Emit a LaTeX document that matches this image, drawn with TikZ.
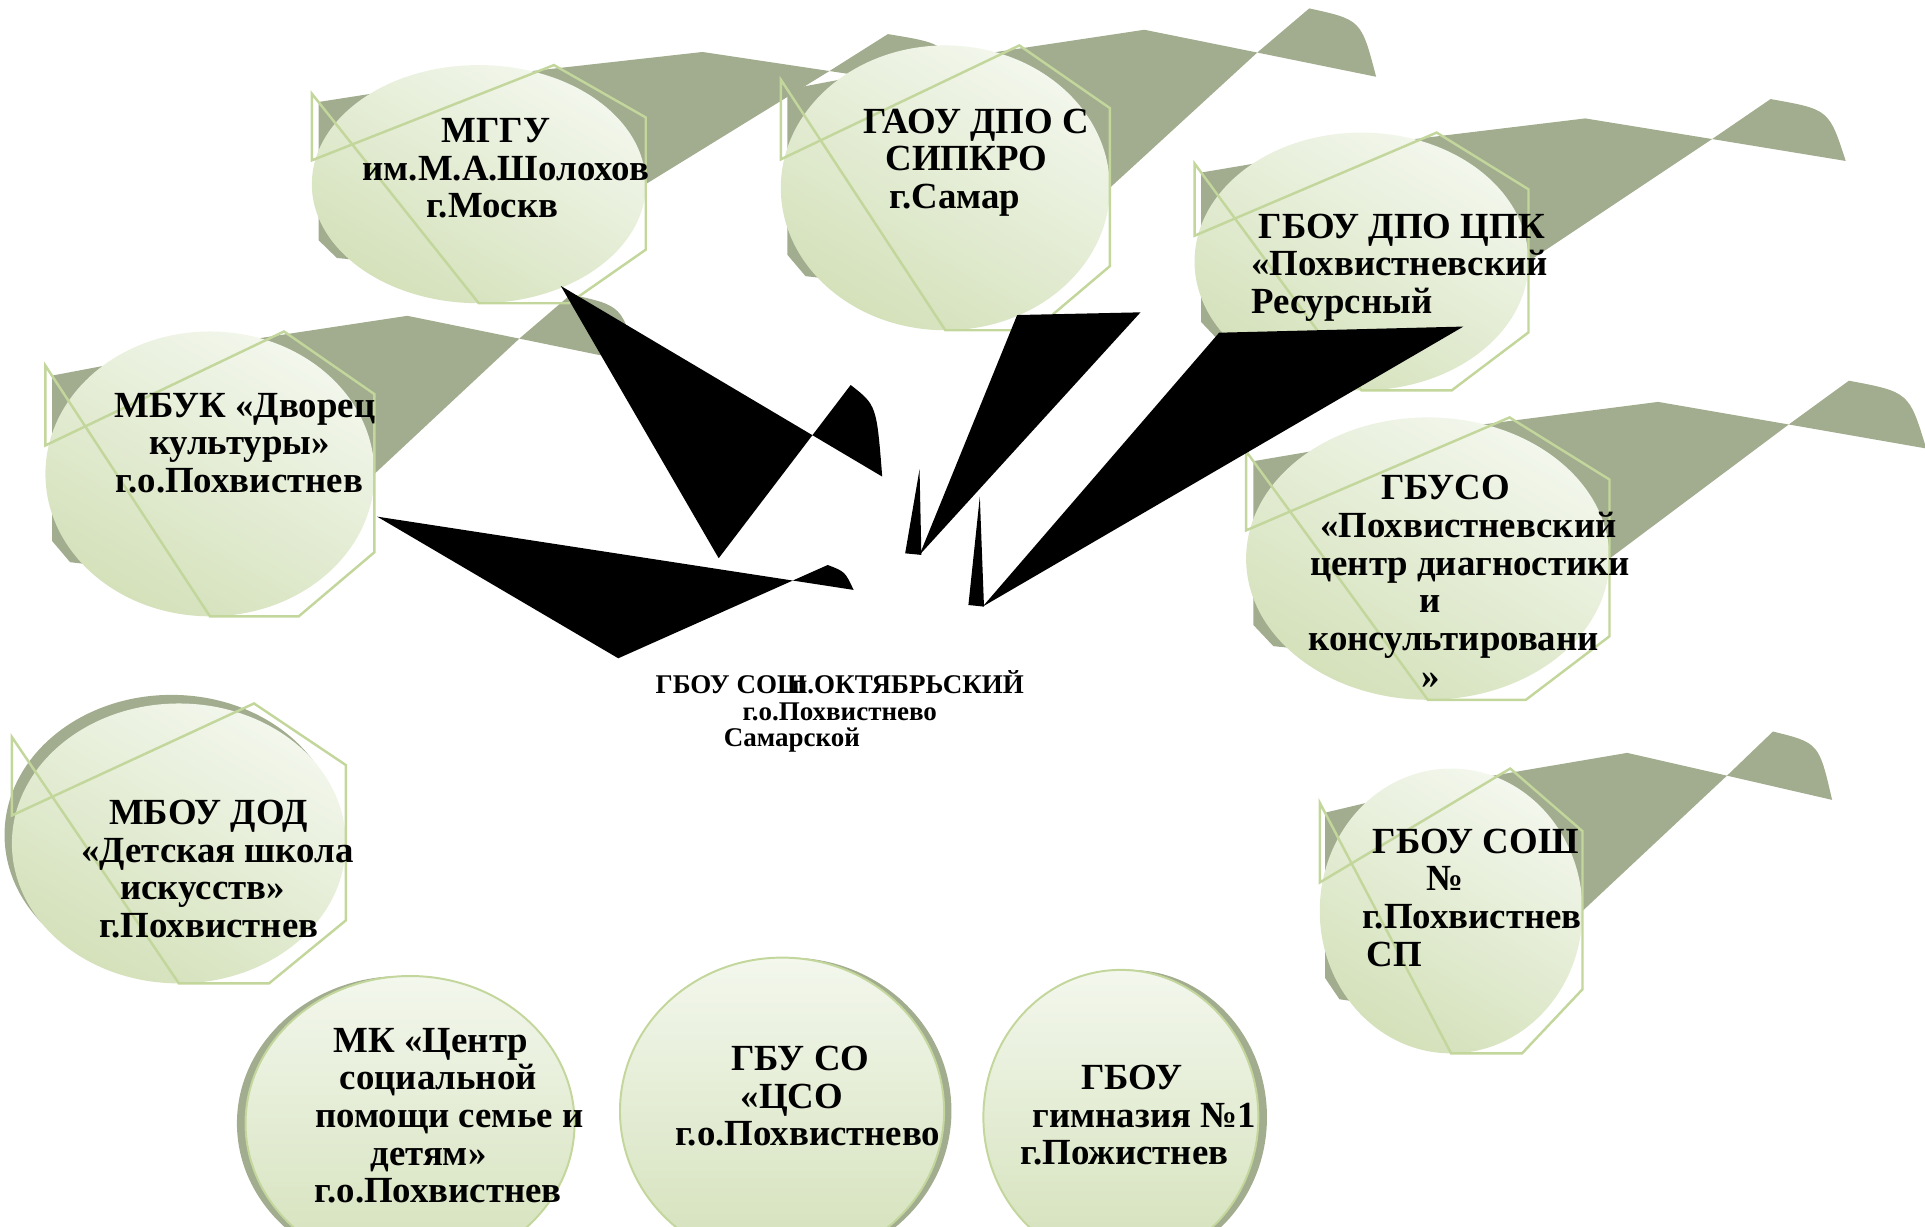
\documentclass[tikz,border=0pt]{standalone}
\usepackage{fontspec}
\setmainfont{Liberation Serif}
\usetikzlibrary{shapes.geometric}
\definecolor{shadowol}{RGB}{162,172,142}
\definecolor{hexgreen}{RGB}{195,214,155}
\definecolor{ovtop}{RGB}{243,247,237}
\definecolor{ovbot}{RGB}{212,225,186}
\tikzset{
  oval/.style={ellipse, inner sep=0pt, outer sep=0pt, top color=ovtop, bottom color=ovbot, shading angle=-30, draw=none},
  ovalrim/.style={ellipse, inner sep=0pt, outer sep=0pt, top color=ovtop, bottom color=ovbot, draw=hexgreen, line width=1.6pt},
  hexline/.style={draw=hexgreen, line width=2pt, line join=miter},
  lbl/.style={font=\fontsize{30}{30.7}\selectfont\bfseries, align=center, anchor=base, inner sep=0pt},
  centrelbl/.style={font=\fontsize{22}{21.5}\selectfont\bfseries, align=center, anchor=base, inner sep=0pt},
  linkfill/.style={fill=black}
}
% line shifted left: text then trailing space kept in a box
\newcommand\lft[2]{\mbox{#2\hspace{#1}}}
% line shifted right: leading space kept in a box
\newcommand\rgt[2]{\mbox{\hspace{#1}#2}}
% #1 cx, #2 cy, #3 rx, #4 ry, #5 sx
\newcommand\shadowshape[5]{%
  \fill[shadowol] ({#1-0.96*#3},{#2-0.69*#4}) -- ({#1},{#2-0.9*#4}) -- ({#1+1.34*#5},{#2-1.11*#4})
    -- ({#1+2.1*#5},{#2-0.95*#4}) -- ({#1+#3},{#2}) -- ({#1+0.5*#3},{#2+0.8*#4})
    -- ({#1-0.85*#3},{#2+0.62*#4}) -- ({#1-0.96*#3},{#2+0.47*#4}) -- cycle;
  \fill[shadowol] ({#1+2.1*#5},{#2-0.95*#4}) -- ({#1+2.45*#5},{#2-1.26*#4})
    .. controls ({#1+2.8*#5},{#2-1.18*#4}) .. ({#1+2.9*#5},{#2-0.78*#4}) -- cycle;
}
% #1 cx, #2 cy, #3 rx, #4 ry
\newcommand\hexframe[4]{%
  \draw[hexline] ({#1-#3},{#2-0.76*#4}) -- ({#1-#3},{#2-0.2*#4}) -- ({#1+0.45*#3},{#2-1.0*#4})
    -- ({#1+#3},{#2-0.56*#4}) -- ({#1+#3},{#2+0.55*#4}) -- ({#1+0.54*#3},{#2+#4})
    -- ({#1},{#2+#4}) -- cycle;
}
\begin{document}
\begin{tikzpicture}[x=1pt,y=-1pt]
\useasboundingbox (0,0) rectangle (1568,999.4);

% ---- shadows ----
\shadowshape{171}{386}{134}{116}{120}
\shadowshape{390}{150}{136}{97}{136}
\shadowshape{770}{153}{134}{116}{121}
\shadowshape{1109}{213}{136}{105}{136}
\shadowshape{1163}{455}{148}{115}{140}
\shadowshape{1182}{742}{107}{116}{107}
\fill[shadowol] (139.7,680) ellipse [x radius=136, y radius=114];
\fill[shadowol] (327,915) ellipse [x radius=134, y radius=120];
\fill[shadowol] (643,905) ellipse [x radius=132, y radius=125];
\fill[shadowol] (920,910) ellipse [x radius=112, y radius=120];

% ---- ovals ----
\node[oval, minimum width=268pt, minimum height=232pt] (mbuk) at (171,386) {};
\node[oval, minimum width=272pt, minimum height=194pt] (mggu) at (390,150) {};
\node[oval, minimum width=268pt, minimum height=232pt] (gaou) at (770,153) {};
\node[oval, minimum width=272pt, minimum height=210pt] (cpk) at (1109,213) {};
\node[oval, minimum width=296pt, minimum height=230pt] (gbuso) at (1163,455) {};
\node[oval, minimum width=214pt, minimum height=232pt] (sosh) at (1182,742) {};
\node[oval, minimum width=272pt, minimum height=228pt] (mbou) at (145.7,687) {};
\node[ovalrim, minimum width=268pt, minimum height=240pt] (mk) at (334,915) {};
\node[ovalrim, minimum width=264pt, minimum height=250pt] (cso) at (637,905) {};
\node[ovalrim, minimum width=224pt, minimum height=240pt] (gimn) at (913,910) {};

% ---- hexagon frames ----
\hexframe{171}{386}{134}{116}
\hexframe{390}{150}{136}{97}
\hexframe{770}{153}{134}{116}
\hexframe{1109}{213}{136}{105}
\hexframe{1163}{455}{148}{115}
\hexframe{1182}{742}{107}{116}
\hexframe{145.7}{687}{136}{114}

% ---- connectors ----
\coordinate (tipA) at (456.8,232.9);
\coordinate (tipB) at (307.2,420.8);
\fill[linkfill] (tipA) -- (718.6,388.2) .. controls (714,330) .. (692.9,313.6) -- (585.4,454.7) -- cycle;
\fill[linkfill] (tipB) -- (695.3,480.5) .. controls (688.3,465.6) .. (674.2,460.2) -- (503.6,536.2) -- cycle;
\fill[linkfill] (828.5,256.6) -- (929.0,254.4) -- (749.0,452.0) -- cycle;
\fill[linkfill] (749.0,382.3) -- (737.3,450.7) -- (750.5,452.0) -- cycle;
\fill[linkfill] (993,271) -- (1192,266) -- (800.4,494.1) -- cycle;
\fill[linkfill] (798.1,404.5) -- (788.8,492.8) -- (801.5,494.1) -- cycle;

% ---- texts (base = baseline of last line) ----
\node[lbl] (tmggu) at (412,177.4) {\lft{16pt}{МГГУ}\\им.М.А.Шолохов\\\lft{22pt}{г.Москв}};
\node[lbl] (tgaou) at (792,169.9) {\rgt{6pt}{ГАОУ ДПО С}\\\lft{10pt}{СИПКРО}\\\lft{28pt}{г.Самар}};
\node[lbl, align=left, anchor=base west] (tcpk) at (1019,255.4) {\rgt{6pt}{ГБОУ ДПО ЦПК}\\«Похвистневский\\Ресурсный};
\node[lbl] (tgbuso) at (1193,560.5) {\lft{31pt}{ГБУСО}\\\rgt{6pt}{«Похвистневский}\\\rgt{9pt}{центр диагностики}\\\lft{56pt}{и}\\\lft{18pt}{консультировани}\\\lft{56pt}{»}};
\node[lbl] (tsosh) at (1195,787.1) {\rgt{14pt}{ГБОУ СОШ}\\\lft{36pt}{№}\\\rgt{8pt}{г.Похвистнев}\\\lft{119pt}{СП}};
\node[lbl] (tmbou) at (170,763.7) {МБОУ ДОД\\\rgt{14pt}{«Детская школа}\\\lft{10pt}{искусств»}\\г.Похвистнев};
\node[lbl] (tmk) at (357,979.8) {\lft{12pt}{МК «Центр}\\социальной\\\rgt{18pt}{помощи семье и}\\\lft{16pt}{детям»}\\г.о.Похвистнев};
\node[lbl] (tcso) at (652,933.4) {ГБУ СО\\\lft{14pt}{«ЦСО}\\\rgt{12pt}{г.о.Похвистнево}};
\node[lbl] (tgimn) at (922,948.7) {ГБОУ\\\rgt{20pt}{гимназия №1}\\\lft{12pt}{г.Пожистнев}};
\node[lbl] (tmbuk) at (195,401.1) {\rgt{9pt}{МБУК «Дворец}\\культуры»\\г.о.Похвистнев};
\node[centrelbl] (school) at (684,608) {ГБОУ СОШ\kern-0.55em п.ОКТЯБРЬСКИЙ\\г.о.Похвистнево\\\lft{78pt}{Самарской}};
\end{tikzpicture}
\end{document}
